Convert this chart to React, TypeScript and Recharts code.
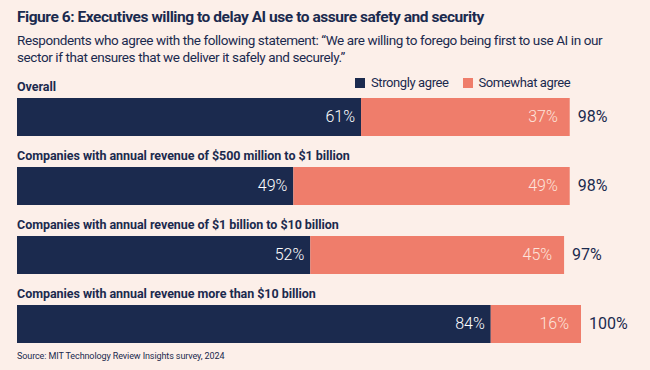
import { Bar, BarChart, XAxis, YAxis, LabelList } from 'recharts';

// 回答者グループ
const groups = [
  'Overall',
  'Companies with annual revenue of $500 million to $1 billion',
  'Companies with annual revenue of $1 billion to $10 billion',
  'Companies with annual revenue more than $10 billion',
];
const stronglyAgree = [61, 49, 52, 84];
const somewhatAgree = [37, 49, 45, 16];
const totals = [98, 98, 97, 100];

const NAVY = '#1b2a4e';
const SALMON = '#ef7d6b';
const BG = '#fcefe9';
const FONT = 'Roboto, "Liberation Sans", sans-serif';

const data = groups.map((name, i) => ({
  name,
  strong: stronglyAgree[i],
  some: somewhatAgree[i],
  total: totals[i],
}));

// バー上のカテゴリ名
const GroupLabel = (props: any) => {
  const { x, y, index } = props;
  return (
    <text x={x} y={y - 7} fill={NAVY} fontFamily={FONT} fontSize={12.5} fontWeight={700} letterSpacing={-0.05}>
      {groups[index]}
    </text>
  );
};

const InsideLabel = (color: string, pad: number) => (props: any) => {
  const { x, y, width, height, value } = props;
  return (
    <text x={x + width - pad} y={y + height / 2 + 1} fill={color} fontFamily={FONT} fontSize={16} fontWeight={300}
      textAnchor="end" dominantBaseline="middle">
      {value}%
    </text>
  );
};

const TotalLabel = (props: any) => {
  const { x, y, width, height, index } = props;
  return (
    <text x={x + width + 8} y={y + height / 2 + 1} fill={NAVY} fontFamily={FONT} fontSize={16} fontWeight={400}
      dominantBaseline="middle">
      {totals[index]}%
    </text>
  );
};

export default function App() {
  return (
    <div style={{ position: 'fixed', left: 0, top: 0, width: 650, height: 370, background: BG, overflow: 'hidden' }}>
      <div style={{ position: 'absolute', left: 17, top: 8, fontFamily: FONT, fontWeight: 700, fontSize: 15.5, color: NAVY, letterSpacing: -0.45, whiteSpace: 'nowrap' }}>
        Figure 6: Executives willing to delay AI use to assure safety and security
      </div>
      <div style={{ position: 'absolute', left: 17, top: 32, width: 620, fontFamily: FONT, fontSize: 13.5, lineHeight: '17px', color: NAVY, letterSpacing: -0.4 }}>
        Respondents who agree with the following statement: “We are willing to forego being first to use AI in our sector if that ensures that we deliver it safely and securely.”
      </div>
      {/* 凡例 */}
      <div style={{ position: 'absolute', left: 355, top: 75, display: 'flex', alignItems: 'center', fontFamily: FONT, fontSize: 13, color: NAVY, letterSpacing: -0.4 }}>
        <span style={{ width: 10, height: 10, background: NAVY, display: 'inline-block', marginRight: 6 }} />
        <span style={{ marginRight: 14 }}>Strongly agree</span>
        <span style={{ width: 10, height: 10, background: SALMON, display: 'inline-block', marginRight: 6 }} />
        <span>Somewhat agree</span>
      </div>
      <div style={{ position: 'absolute', left: 17, top: 351, fontFamily: FONT, fontSize: 9, color: NAVY, letterSpacing: -0.1 }}>
        Source: MIT Technology Review Insights survey, 2024
      </div>
      <div style={{ position: 'absolute', left: 0, top: 0 }}>
        <BarChart width={650} height={370} data={data} layout="vertical" barSize={38}
          margin={{ top: 82, right: 69, left: 17, bottom: 12 }}>
          <XAxis type="number" domain={[0, 100]} hide />
          <YAxis type="category" dataKey="name" hide />
          <Bar dataKey="strong" stackId="a" fill={NAVY} isAnimationActive={false}>
            <LabelList dataKey="strong" content={GroupLabel} />
            <LabelList dataKey="strong" content={InsideLabel('#ffffff', 6)} />
          </Bar>
          <Bar dataKey="some" stackId="a" fill={SALMON} isAnimationActive={false}>
            <LabelList dataKey="some" content={InsideLabel('#fde4dc', 12)} />
            <LabelList dataKey="some" content={TotalLabel} />
          </Bar>
        </BarChart>
      </div>
    </div>
  );
}
